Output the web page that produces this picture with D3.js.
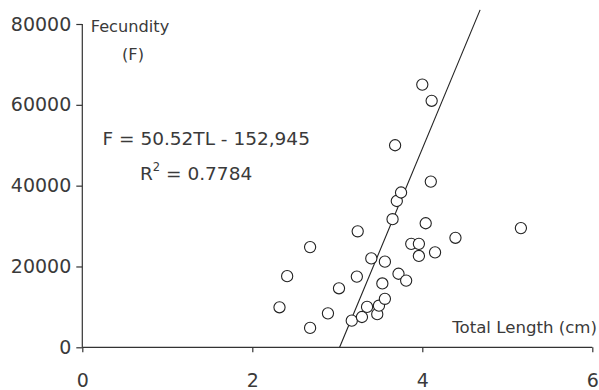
<!DOCTYPE html>
<html>
<head>
<meta charset="utf-8">
<script src="https://cdn.jsdelivr.net/npm/d3@7"></script>
<style>
  html, body { margin: 0; padding: 0; background: #fff; }
  svg { display: block; }
  text { font-family: "DejaVu Sans", sans-serif; fill: #3a3a3a; }
</style>
</head>
<body>
<svg id="chart" width="599" height="390"></svg>
<script>
// Total length (cm) of each fish
const totalLength = [
  2.32, 2.41, 2.68, 2.68, 2.89, 3.02, 3.17, 3.24, 3.23, 3.29, 3.35,
  3.40, 3.47, 3.49, 3.53, 3.56, 3.56, 3.65, 3.68, 3.70, 3.72, 3.75,
  3.81, 3.87, 3.96, 3.96, 4.00, 4.04, 4.10, 4.11, 4.15, 4.39, 5.16
];
// Fecundity (number of eggs) of each fish
const fecundity = [
  9900, 17600, 4800, 24800, 8400, 14600, 6600, 28700, 17500, 7500, 10000,
  22000, 8200, 10300, 15800, 21200, 12000, 31700, 50000, 36200, 18200, 38300,
  16500, 25600, 25600, 22600, 65000, 30700, 41000, 61000, 23500, 27100, 29500
];
const xTicks = [0, 2, 4, 6];
const yTicks = [0, 20000, 40000, 60000, 80000];
// Fitted regression: F = slope * TL + intercept
const slope = 50520;
const intercept = -152945;
const fitTopValue = 83500;

const svg = d3.select("#chart");

const x = d3.scaleLinear().domain([0, 6]).range([82.3, 592.3]);
const y = d3.scaleLinear().domain([0, 80000]).range([347.3, 24]);

// Axes
const yAxis = svg.append("g")
  .attr("transform", `translate(${x(0)},0)`)
  .call(d3.axisLeft(y).tickValues(yTicks).tickSize(6).tickPadding(5).tickFormat(d => String(d)));
const xAxis = svg.append("g")
  .attr("transform", `translate(0,${y(0)})`)
  .call(d3.axisBottom(x).tickValues(xTicks).tickSize(5).tickPadding(21).tickFormat(d => String(d)));

[yAxis, xAxis].forEach(g => {
  g.select(".domain").attr("stroke", "#333").attr("stroke-width", 1.2);
  g.selectAll(".tick line").attr("stroke", "#333").attr("stroke-width", 1.2);
  g.selectAll(".tick text")
    .attr("fill", "#3a3a3a")
    .style("font-family", "'DejaVu Sans', sans-serif")
    .style("font-size", "19px");
});
// keep domain ends flush (no outer ticks)
yAxis.select(".domain").attr("d", `M0,${y(80000)}V${y(0)}`);
xAxis.select(".domain").attr("d", `M${x(0)},0H${x(6)}`);

// Regression line from its x-intercept up to the top of the frame
const xStart = -intercept / slope;
const xEnd = (fitTopValue - intercept) / slope;
svg.append("line")
  .attr("x1", x(xStart)).attr("y1", y(0))
  .attr("x2", x(xEnd)).attr("y2", y(fitTopValue))
  .attr("stroke", "#222").attr("stroke-width", 1.1);

// Observations as open circles
svg.append("g").selectAll("circle")
  .data(totalLength.map((tl, i) => ({ tl, f: fecundity[i] })))
  .join("circle")
  .attr("cx", d => x(d.tl))
  .attr("cy", d => y(d.f))
  .attr("r", 5.6)
  .attr("fill", "#fff")
  .attr("stroke", "#222")
  .attr("stroke-width", 1.1);

// Axis titles
svg.append("text").attr("x", 130).attr("y", 31.5)
  .attr("text-anchor", "middle").style("font-size", "16.2px").text("Fecundity");
svg.append("text").attr("x", 133).attr("y", 60)
  .attr("text-anchor", "middle").style("font-size", "16.2px").text("(F)");
svg.append("text").attr("x", 597).attr("y", 333)
  .attr("text-anchor", "end").style("font-size", "16.6px").text("Total Length (cm)");

// Regression equation and coefficient of determination
svg.append("text").attr("x", 102.5).attr("y", 145)
  .style("font-size", "18.5px").text("F = 50.52TL - 152,945");
const r2 = svg.append("text").attr("x", 140).attr("y", 180).style("font-size", "18.5px");
r2.append("tspan").text("R");
r2.append("tspan").attr("dy", -9).style("font-size", "11.5px").text("2");
r2.append("tspan").attr("dy", 9).text(" = 0.7784");
</script>
</body>
</html>
